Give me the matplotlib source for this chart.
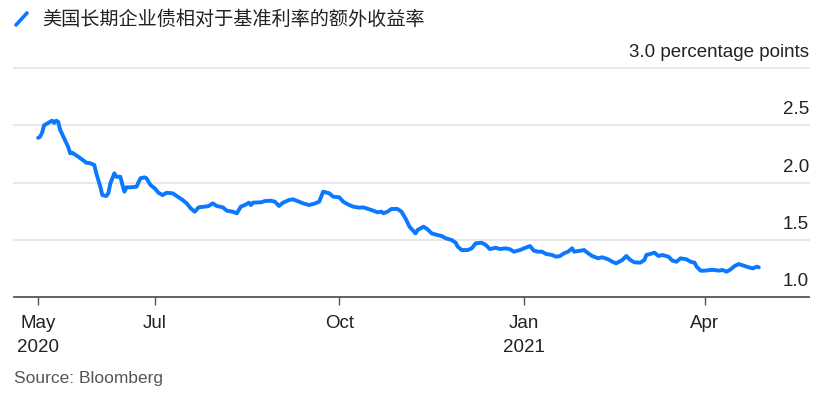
import matplotlib
matplotlib.use("Agg")

import matplotlib.pyplot as plt
import matplotlib.transforms as mtransforms
from matplotlib.lines import Line2D
import pandas as pd

# days since 2020-05-01
day_offsets = [3, 4, 5, 6, 8, 10, 11, 12, 13, 14, 16, 18, 19, 20, 23, 25, 27, 29, 31, 32,
               33, 34, 35, 37, 38, 39, 41, 42, 44, 45, 46, 47, 49, 52, 54, 56, 57, 59, 61, 63,
               65, 67, 70, 72, 75, 77, 79, 81, 83, 86, 88, 90, 92, 95, 97, 100, 102, 104, 106, 108,
               109, 110, 114, 116, 119, 121, 123, 125, 128, 130, 133, 135, 138, 140, 143, 144, 145, 148, 150, 153,
               155, 158, 160, 163, 165, 168, 170, 172, 174, 175, 177, 179, 182, 184, 186, 188, 191, 192, 195, 197,
               199, 202, 204, 206, 209, 211, 212, 214, 217, 219, 221, 224, 226, 228, 231, 233, 236, 238, 240, 243,
               245, 248, 250, 252, 254, 256, 259, 261, 263, 265, 267, 269, 270, 273, 275, 277, 279, 282, 284, 287,
               289, 291, 294, 296, 298, 300, 303, 305, 306, 308, 310, 312, 314, 317, 319, 321, 323, 326, 328, 330,
               331, 333, 335, 338, 340, 342, 344, 346, 348, 350, 352, 355, 357, 359, 361, 362]
spread = [2.39, 2.40, 2.435, 2.50, 2.52, 2.54, 2.52, 2.54, 2.53, 2.46, 2.386, 2.31, 2.255, 2.26, 2.225, 2.20, 2.173, 2.168, 2.153, 2.08,
          2.02, 1.963, 1.89, 1.882, 1.906, 1.993, 2.08, 2.05, 2.05, 1.98, 1.92, 1.958, 1.958, 1.963, 2.037, 2.045, 2.037, 1.978, 1.95, 1.91,
          1.89, 1.91, 1.906, 1.882, 1.847, 1.818, 1.775, 1.745, 1.783, 1.789, 1.795, 1.818, 1.795, 1.783, 1.754, 1.745, 1.731, 1.789, 1.803, 1.824,
          1.803, 1.824, 1.827, 1.838, 1.841, 1.832, 1.795, 1.824, 1.847, 1.853, 1.832, 1.818, 1.803, 1.812, 1.832, 1.876, 1.92, 1.906, 1.876, 1.871,
          1.832, 1.803, 1.789, 1.78, 1.783, 1.766, 1.754, 1.74, 1.745, 1.731, 1.745, 1.769, 1.769, 1.745, 1.687, 1.614, 1.556, 1.585, 1.614, 1.591,
          1.556, 1.541, 1.533, 1.513, 1.498, 1.474, 1.44, 1.41, 1.41, 1.425, 1.469, 1.474, 1.454, 1.419, 1.43, 1.419, 1.425, 1.417, 1.396, 1.41,
          1.425, 1.445, 1.404, 1.396, 1.396, 1.376, 1.367, 1.352, 1.358, 1.382, 1.396, 1.425, 1.396, 1.404, 1.41, 1.382, 1.358, 1.338, 1.347, 1.329,
          1.308, 1.294, 1.323, 1.358, 1.323, 1.303, 1.30, 1.323, 1.367, 1.376, 1.387, 1.358, 1.367, 1.352, 1.317, 1.308, 1.338, 1.329, 1.308, 1.30,
          1.265, 1.23, 1.23, 1.236, 1.236, 1.23, 1.236, 1.221, 1.242, 1.271, 1.288, 1.271, 1.259, 1.25, 1.265, 1.259]

y_ticks = [1.0, 1.5, 2.0, 2.5, 3.0]
y_labels = ["1.0", "1.5", "2.0", "2.5", "3.0 percentage points"]
x_tick_dates = ["2020-05-04", "2020-07-01", "2020-10-01", "2021-01-01", "2021-04-01"]
x_tick_labels = ["May\n2020", "Jul", "Oct", "Jan\n2021", "Apr"]

title = "美国长期企业债相对于基准利率的额外收益率"
blue = "#0a78ff"

dates = pd.Timestamp("2020-05-01") + pd.to_timedelta(day_offsets, unit="D")

plt.rcParams["font.family"] = ["Liberation Sans", "DejaVu Sans"]

fig = plt.figure(figsize=(8.31, 3.98), dpi=100)
ax = fig.add_axes([14 / 831, 1 - 297 / 398, (809 - 14) / 831, (297 - 68) / 398])

ax.plot(dates, spread, color=blue, lw=2.8, solid_capstyle="round", solid_joinstyle="round", zorder=3)

ax.set_xlim(pd.Timestamp("2020-04-22"), pd.Timestamp("2021-05-23"))
ax.set_ylim(1.0, 3.0)

for v in y_ticks[1:]:
    ax.axhline(v, color="#e8e8e8", lw=1.4, zorder=1, clip_on=False)

# value labels sit just above their gridlines, right aligned
lab_tr = mtransforms.offset_copy(ax.get_yaxis_transform(), fig=fig, y=11, units="dots")
for v, lab in zip(y_ticks, y_labels):
    ax.text(1.0, v, lab, transform=lab_tr, ha="right", va="baseline",
            fontsize=13.5, color="#222222")

ax.set_yticks([])
ax.set_xticks(pd.to_datetime(x_tick_dates))
ax.set_xticklabels(x_tick_labels, fontsize=13.5, color="#222222", linespacing=1.5)
ax.tick_params(axis="x", length=6, width=1, color="#555555", pad=7)

for s in ["top", "left", "right"]:
    ax.spines[s].set_visible(False)
ax.spines["bottom"].set_color("#555555")
ax.spines["bottom"].set_linewidth(1.3)

# title with line swatch
fig.add_artist(Line2D([16 / 831, 27 / 831], [1 - 25 / 398, 1 - 13 / 398], color=blue, lw=2.6,
                      solid_capstyle="round"))
fig.text(42 / 831, 1 - 19 / 398, title, fontsize=13.8, va="center", ha="left",
         family=["Noto Sans CJK SC", "DejaVu Sans"], color="#222222")

fig.text(14 / 831, 1 - 378 / 398, "Source: Bloomberg", fontsize=12.5, color="#555555", va="center")

fig.savefig("out.png", dpi=100)
